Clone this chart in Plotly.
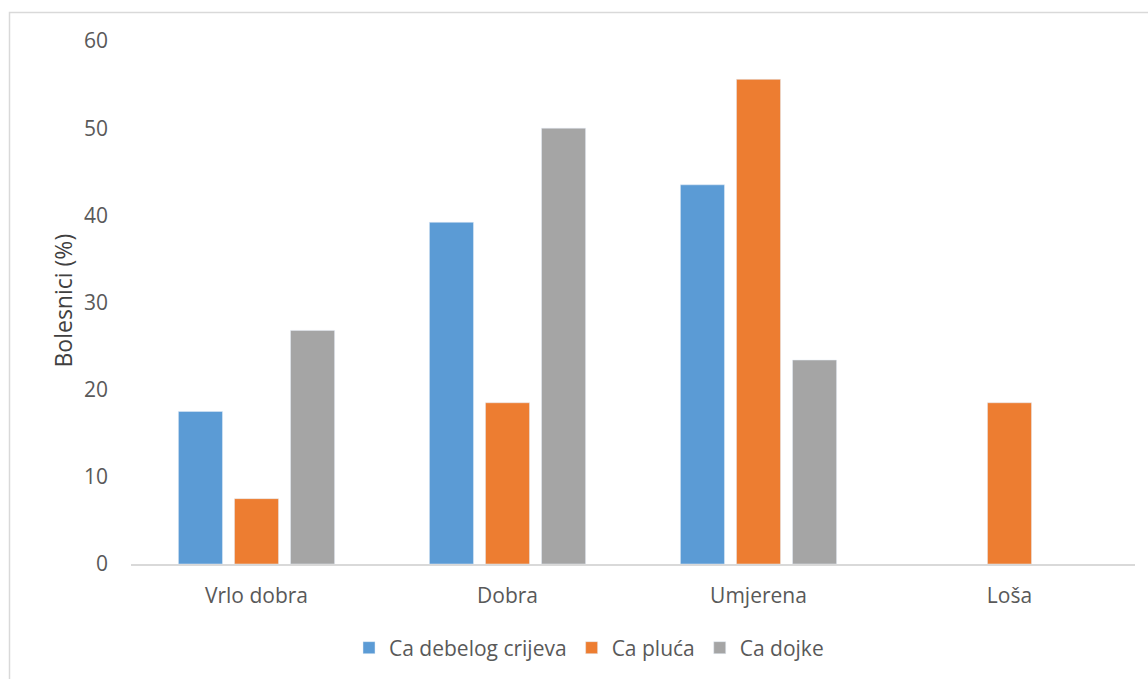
import plotly.graph_objects as go

categories = ["Vrlo dobra", "Dobra", "Umjerena", "Loša"]
ca_debelog_crijeva = [17.5, 39.2, 43.5, None]
ca_pluca = [7.5, 18.5, 55.6, 18.5]
ca_dojke = [26.8, 50.0, 23.4, None]
y_ticks = [0, 10, 20, 30, 40, 50, 60]

W, H = 1148, 679
L, R, T, B = 131, 13, 41, 114
pw, ph = W - L - R, H - T - B

def px_x(px):
    return (px - L) / pw

def px_y(py):
    return (H - B - py) / ph

font = "Open Sans"
txt = "#595959"

fig = go.Figure()
fig.add_trace(go.Bar(name="Ca debelog crijeva", x=categories, y=ca_debelog_crijeva, marker_color="#5B9BD5"))
fig.add_trace(go.Bar(name="Ca pluća", x=categories, y=ca_pluca, marker_color="#ED7D31"))
fig.add_trace(go.Bar(name="Ca dojke", x=categories, y=ca_dojke, marker_color="#A5A5A5"))

fig.update_layout(
    width=W, height=H,
    margin=dict(l=L, r=R, t=T, b=B, pad=0),
    paper_bgcolor="white", plot_bgcolor="white",
    barmode="group", bargap=0.33, bargroupgap=0.214,
    font=dict(family=font, size=21, color=txt),
    showlegend=True,
    legend=dict(orientation="h", x=px_x(589), xanchor="center", y=px_y(648), yanchor="middle",
                font=dict(family=font, size=21, color=txt), itemwidth=30, traceorder="normal"),
    xaxis=dict(showgrid=False, showline=True, linecolor="#D9D9D9", linewidth=2, ticks="",
               tickfont=dict(family=font, size=21, color=txt), ticklabelstandoff=12),
    yaxis=dict(range=[0, 60], tickvals=y_ticks, showgrid=False, showline=False, zeroline=False,
               ticks="", tickfont=dict(family=font, size=21, color=txt), ticklabelstandoff=22),
    shapes=[dict(type="rect", xref="paper", yref="paper",
                 x0=px_x(9.5), x1=px_x(1170), y0=px_y(700), y1=px_y(12.5),
                 line=dict(color="#D9D9D9", width=1.5), fillcolor="rgba(0,0,0,0)", layer="below")],
    annotations=[dict(text="Bolesnici (%)", xref="paper", yref="paper", x=px_x(63), y=px_y(301),
                      xanchor="center", yanchor="middle", textangle=-90, showarrow=False,
                      font=dict(family=font, size=23, color="#404040"))],
)

fig.write_html("out.html", config={"displayModeBar": False},
               post_script="document.body.style.margin='0';document.body.style.padding='0';")
